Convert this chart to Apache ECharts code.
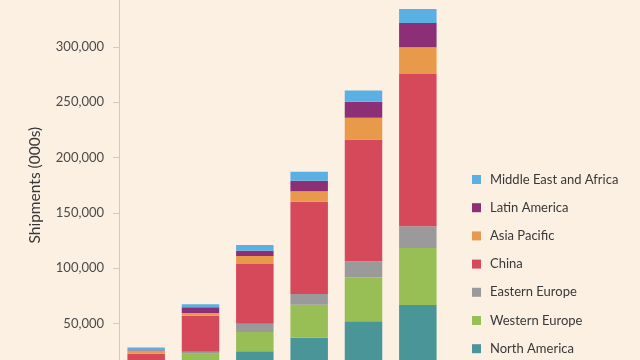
<!DOCTYPE html>
<html>
<head>
<meta charset="utf-8">
<script src="https://cdn.jsdelivr.net/npm/echarts@6/dist/echarts.min.js"></script>
<style>
html,body{margin:0;padding:0;background:#fcf0e3;}
#chart{width:640px;height:360px;}
</style>
</head>
<body>
<div id="chart"></div>
<script>
const categories = ['2011', '2012', '2013', '2014', '2015', '2016'];
const northAmerica = [5500, 12000, 24700, 37000, 51800, 66600];
const westernEurope = [6000, 10500, 17450, 29850, 39800, 51550];
const easternEurope = [1000, 1800, 7500, 9700, 14450, 19650];
const china = [10000, 32600, 54000, 83500, 110350, 137750];
const asiaPacific = [2700, 2450, 7250, 9400, 19550, 24150];
const latinAmerica = [400, 5150, 4800, 9600, 14450, 22000];
const middleEastAfrica = [2500, 2700, 5150, 8150, 10300, 12650];
const yTicks = [0, 50000, 100000, 150000, 200000, 250000, 300000, 350000];

const seriesDefs = [
  ['North America', northAmerica, '#4a9597'],
  ['Western Europe', westernEurope, '#98bf55'],
  ['Eastern Europe', easternEurope, '#9a9a9a'],
  ['China', china, '#d5495b'],
  ['Asia Pacific', asiaPacific, '#e8994a'],
  ['Latin America', latinAmerica, '#8c2f77'],
  ['Middle East and Africa', middleEastAfrica, '#5ab0e2']
];

const chart = echarts.init(document.getElementById('chart'));
chart.setOption({
  backgroundColor: '#fcf0e3',
  animation: false,
  textStyle: { fontFamily: 'Lato' },
  grid: { left: 119, right: 195, top: -8.3, bottom: -18.6, outerBoundsMode: 'none', containLabel: false },
  legend: {
    orient: 'vertical',
    left: 472,
    top: 173,
    height: 260,
    padding: 0,
    itemWidth: 9,
    itemHeight: 9,
    itemGap: 15.2,
    icon: 'rect',
    data: seriesDefs.map(s => s[0]).reverse(),
    textStyle: { fontFamily: 'Lato', fontSize: 13, color: '#383838', padding: [0, 0, 0, 4] }
  },
  xAxis: {
    type: 'category',
    data: categories,
    axisLine: { show: false },
    axisTick: { show: false },
    axisLabel: { show: false }
  },
  yAxis: {
    type: 'value',
    min: yTicks[0],
    max: yTicks[yTicks.length - 1],
    interval: yTicks[1] - yTicks[0],
    name: 'Shipments (000s)',
    nameLocation: 'middle',
    nameGap: 76,
    nameTextStyle: { fontFamily: 'Lato', fontSize: 15.5, color: '#383838' },
    axisLine: { show: true, lineStyle: { color: '#cfcac4', width: 1 } },
    axisTick: { show: true, length: 6, lineStyle: { color: '#cfcac4' } },
    splitLine: { show: false },
    axisLabel: {
      fontFamily: 'Lato', fontSize: 13, color: '#4a4a4a', margin: 15,
      formatter: v => v.toLocaleString('en-US')
    }
  },
  series: seriesDefs.map(([name, data, color]) => ({
    name, type: 'bar', stack: 'total', data,
    barCategoryGap: '31%',
    itemStyle: { color },
    emphasis: { disabled: true }
  }))
});
</script>
</body>
</html>
